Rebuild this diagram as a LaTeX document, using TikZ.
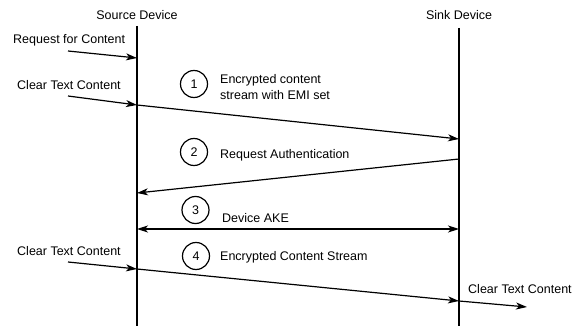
\documentclass[tikz,border=0pt]{standalone}
\usepackage{fontspec}
\setmainfont{Liberation Sans}
\usetikzlibrary{arrows.meta}
\begin{document}
\begin{tikzpicture}[x=1pt,y=-1pt,
  lbl/.style={font=\fontsize{12.5}{16}\selectfont, inner sep=0pt, anchor=west, align=left},
  head/.style={font=\fontsize{12.5}{15}\selectfont, inner sep=0pt},
  lifeline/.style={line width=2.8pt},
  tip/.style={},
  msg/.style={line width=1.2pt, -{Stealth[length=11pt,width=7pt,inset=3pt]}},
  msgboth/.style={line width=1.2pt, {Stealth[length=11pt,width=7pt,inset=3pt]}-{Stealth[length=11pt,width=7pt,inset=3pt]}},
  num/.style={draw, circle, line width=1.2pt, minimum size=27pt, inner sep=0pt, font=\fontsize{12.5}{15}\selectfont}]
\useasboundingbox (0,0) rectangle (584,326);

% lifelines
\node[head] (src) at (137,15) {Source Device};
\node[head] (snk) at (459,15) {Sink Device};
\coordinate (srcTop) at (137,26);
\coordinate (srcBot) at (137,326);
\coordinate (snkTop) at (459,28);
\coordinate (snkBot) at (459,326);
\draw[lifeline] (srcTop) -- (srcBot);
\draw[lifeline] (snkTop) -- (snkBot);

% points on the lifelines
\coordinate (s1) at (137,58);
\coordinate (s2) at (137,105);
\coordinate (k1) at (459,139);
\coordinate (k2) at (459,159);
\coordinate (s3) at (137,193);
\coordinate (s4) at (137,229);
\coordinate (k4) at (459,229);
\coordinate (s5) at (137,269);
\coordinate (k5) at (459,301);

% external inputs
\node[lbl] (req) at (13,40) {Request for Content};
\coordinate (reqIn) at (68,51);
\draw[msg] (reqIn) -- (s1);

\node[lbl] (ct1) at (17,85) {Clear Text Content};
\coordinate (ct1In) at (68,96);
\draw[msg] (ct1In) -- (s2);

\node[lbl] (ct2) at (17,251) {Clear Text Content};
\coordinate (ct2In) at (68,262);
\draw[msg] (ct2In) -- (s5);

% step 1
\node[num] (n1) at (194,84) {1};
\node[lbl] (t1) at (220,87) {Encrypted content\\stream with EMI set};
\draw[msg] (s2) -- (k1);

% step 2
\node[num] (n2) at (194,152) {2};
\node[lbl] (t2) at (220,155) {Request Authentication};
\draw[msg] (k2) -- (s3);

% step 3
\node[num] (n3) at (195.5,210) {3};
\node[lbl] (t3) at (222,218) {Device AKE};
\draw[msgboth] (s4) -- (k4);

% step 4
\node[num] (n4) at (196,256) {4};
\node[lbl] (t4) at (220,257) {Encrypted Content Stream};
\draw[msg] (s5) -- (k5);

% output
\node[lbl] (ct3) at (468,289) {Clear Text Content};
\coordinate (ct3Out) at (527,307);
\draw[msg] (k5) -- (ct3Out);
\end{tikzpicture}
\end{document}
